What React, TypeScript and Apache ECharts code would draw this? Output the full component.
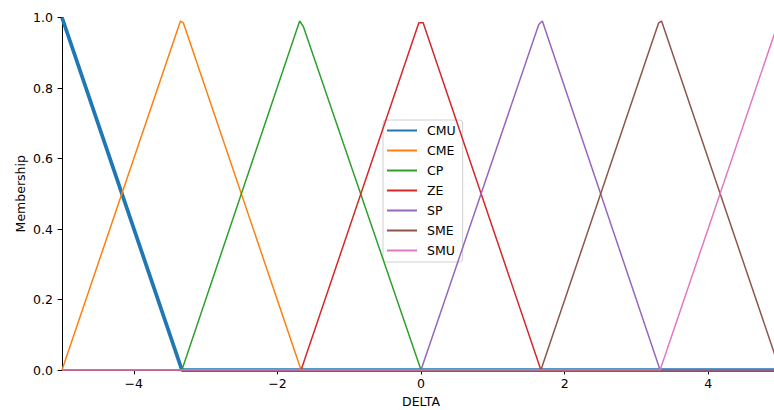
import React, { useEffect, useRef } from "react";
import * as echarts from "echarts";

const names = ["CMU", "CME", "CP", "ZE", "SP", "SME", "SMU"];
const colors = ["#1f77b4", "#ff7f0e", "#2ca02c", "#d62728", "#9467bd", "#8c564b", "#e377c2"];

const cmu = [[-5, 1], [-3.33, 0], [5, 0]];
const cme = [[-5, 0], [-3.35, 0.99], [-3.31, 0.985], [-1.67, 0], [5, 0]];
const cp = [[-5, 0], [-3.33, 0], [-1.69, 0.99], [-1.64, 0.975], [0, 0], [5, 0]];
const ze = [[-5, 0], [-1.67, 0], [-0.03, 0.985], [0.03, 0.985], [1.67, 0], [5, 0]];
const sp = [[-5, 0], [0, 0], [1.64, 0.98], [1.69, 0.99], [3.33, 0], [5, 0]];
const sme = [[-5, 0], [1.67, 0], [3.31, 0.985], [3.35, 0.99], [5, 0]];
const smu = [[-5, 0], [3.33, 0], [5, 1]];

const seriesData = [cmu, cme, cp, ze, sp, sme, smu];
const xTicks = [-4, -2, 0, 2, 4];

const FONT = "DejaVu Sans";

export default function App() {
  const ref = useRef<HTMLDivElement>(null);
  useEffect(() => {
    const chart = echarts.init(ref.current!, null, { renderer: "svg" });
    chart.setOption({
      animation: false,
      textStyle: { fontFamily: FONT },
      grid: { left: 62, top: 17.5, right: -6, bottom: 40, outerBoundsMode: "none", containLabel: false },
      xAxis: {
        type: "value",
        min: -5,
        max: 5,
        name: "DELTA",
        nameLocation: "middle",
        nameGap: 25,
        nameMoveOverlap: false,
        nameTextStyle: { fontFamily: FONT, fontSize: 12.5, color: "#000" },
        axisLine: { show: true, onZero: false, lineStyle: { color: "#000", width: 1 } },
        axisTick: { show: true, length: 4.4, lineStyle: { color: "#000" }, customValues: xTicks },
        axisLabel: {
          customValues: xTicks,
          fontFamily: FONT,
          fontSize: 12.5,
          color: "#000",
          margin: 7,
          formatter: (v: number) => String(v).replace("-", "\u2212"),
        },
        splitLine: { show: false },
      },
      yAxis: {
        type: "value",
        min: 0,
        max: 1,
        interval: 0.2,
        name: "Membership",
        nameLocation: "middle",
        nameGap: 35,
        nameMoveOverlap: false,
        nameTextStyle: { fontFamily: FONT, fontSize: 12.5, color: "#000" },
        axisLine: { show: true, onZero: false, lineStyle: { color: "#000", width: 1 } },
        axisTick: { show: true, length: 4.4, lineStyle: { color: "#000" } },
        axisLabel: {
          fontFamily: FONT,
          fontSize: 12.5,
          color: "#000",
          margin: 9,
          formatter: (v: number) => v.toFixed(1),
        },
        splitLine: { show: false },
      },
      legend: {
        orient: "vertical",
        left: 383,
        top: 120,
        padding: [4, 7, 5, 3],
        itemWidth: 30,
        itemHeight: 14,
        itemGap: 7,
        backgroundColor: "rgba(255,255,255,0.8)",
        borderColor: "#d0d0d0",
        borderWidth: 1,
        borderRadius: 3,
        itemStyle: { opacity: 0 },
        textStyle: { fontFamily: FONT, fontSize: 12.5, color: "#000", padding: [0, 0, 0, 5] },
        data: names,
      },
      series: names.map((n, i) => ({
        name: n,
        type: "line",
        data: seriesData[i],
        symbol: "none",
        showSymbol: false,
        color: colors[i],
        lineStyle: { color: colors[i], width: i === 0 ? 3.75 : 1.5 },
        z: 2 + i,
      })),
    });
    return () => chart.dispose();
  }, []);
  return <div ref={ref} style={{ width: 774, height: 410, position: "absolute", left: 0, top: 0 }} />;
}
